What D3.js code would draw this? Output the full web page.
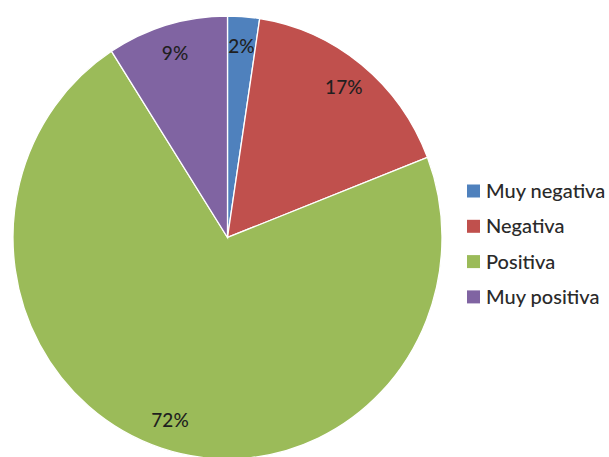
<!DOCTYPE html>
<html><head><meta charset="utf-8">
<script src="https://cdn.jsdelivr.net/npm/d3@7"></script>
<style>body{margin:0;background:#fff}svg{display:block}</style>
</head><body>
<svg id="c" width="609" height="457"></svg>
<script>
const categories = ["Muy negativa", "Negativa", "Positiva", "Muy positiva"];
const values = [2.4, 16.7, 71.8, 9.1];
const labels = ["2%", "17%", "72%", "9%"];
const colors = ["#4F81BD", "#C0504D", "#9BBB59", "#8064A2"];

const svg = d3.select("#c");
const cx = 227.5, cy = 237.5, r = 214.5, sy = 221.5 / 214.5;
const g = svg.append("g").attr("transform", `translate(${cx},${cy}) scale(1,${sy})`);
const pie = d3.pie().sort(null).value(d => d);
const arcs = pie(values);
const arc = d3.arc().innerRadius(0).outerRadius(r);
const labelArc = d3.arc().innerRadius(186).outerRadius(186);

g.selectAll("path").data(arcs).join("path")
  .attr("d", arc)
  .attr("fill", (d,i) => colors[i])
  .attr("stroke", "#fff").attr("stroke-width", 1.3);

const lg = svg.append("g").attr("transform", `translate(${cx},${cy})`);
lg.selectAll("text").data(arcs).join("text")
  .attr("transform", d => { const c = labelArc.centroid(d); return `translate(${c[0]},${c[1]*sy})`; })
  .attr("text-anchor", "middle").attr("dy", "0.35em")
  .attr("font-family", "Lato, sans-serif").attr("font-size", 19).attr("font-weight", 500)
  .attr("fill", "#1f1f1f")
  .text((d,i) => labels[i]);

const leg = svg.append("g").attr("transform", "translate(467,191)");
const row = leg.selectAll("g").data(categories).join("g")
  .attr("transform", (d,i) => `translate(0,${i*35.3})`);
row.append("rect").attr("x", 0).attr("y", -6.5).attr("width", 13).attr("height", 13)
  .attr("fill", (d,i) => colors[i]);
row.append("text").attr("x", 19).attr("dy", "0.35em")
  .attr("font-family", "Lato, sans-serif").attr("font-size", 20).attr("font-weight", 500)
  .attr("fill", "#2a2a2a").text(d => d);
</script>
</body></html>
